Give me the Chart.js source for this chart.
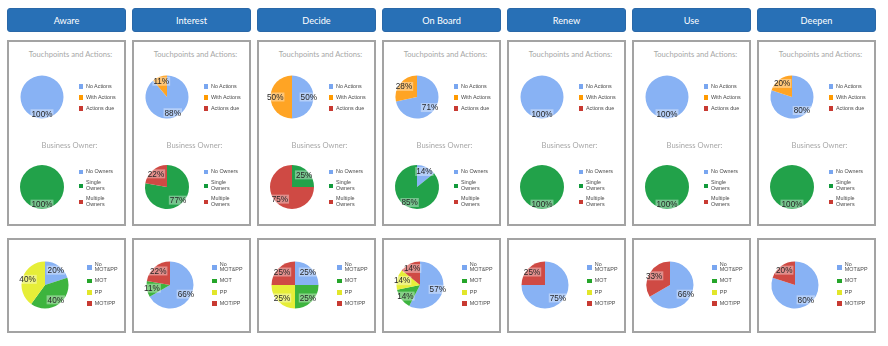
<!DOCTYPE html>
<html>
<head>
<meta charset="utf-8">
<script src="https://cdn.jsdelivr.net/npm/chart.js@4.4.1/dist/chart.umd.min.js"></script>
<style>
  html, body { margin: 0; padding: 0; background: #ffffff; }
  body { width: 888px; height: 346px; position: relative; overflow: hidden; font-family: "Liberation Sans", Arial, sans-serif; }
  .hdr { position: absolute; width: 119px; height: 24px; background: #2870b6; border-radius: 3px;
         color: #fff; font: 9.2px Lato, "Open Sans", sans-serif; text-align: center; line-height: 23px; box-sizing: border-box; border: 1px solid #2a68a8; }
  .panel { position: absolute; width: 119px; box-sizing: border-box; border: 2px solid #a3a3a3; background: #fff; }
  .ttl { position: absolute; width: 119px; text-align: center; font: 7.6px Lato, "Open Sans", sans-serif; color: #a8a8a8; }
  .lg { position: absolute; font: 5.4px "Liberation Sans", Arial, sans-serif; color: #4a4a4a; line-height: 5.6px; white-space: nowrap; }
  .sq { position: absolute; width: 4.5px; height: 4.5px; }
  canvas.pie { position: absolute; }
</style>
</head>
<body>
<script>
// Journey stages (one column each)
const stages = ['Aware', 'Interest', 'Decide', 'On Board', 'Renew', 'Use', 'Deepen'];

// Touchpoints and Actions (percent)
const actionLabels = ['No Actions', 'With Actions', 'Actions due'];
const noActions   = [100, 88, 50, 71, 100, 100, 80];
const withActions = [0, 11, 50, 28, 0, 0, 20];
const actionsDue  = [0, 0, 0, 0, 0, 0, 0];

// Business Owner (percent)
const ownerLabels = ['No Owners', 'Single\nOwners', 'Multiple\nOwners'];
const noOwners       = [0, 0, 0, 14, 0, 0, 0];
const singleOwners   = [100, 77, 25, 85, 100, 100, 100];
const multipleOwners = [0, 22, 75, 0, 0, 0, 0];

// MOT / PP coverage (percent)
const motLabels = ['No\nMOT&PP', 'MOT', 'PP', 'MOT/PP'];
const noMotPp = [20, 66, 25, 57, 75, 66, 80];
const motOnly = [40, 11, 25, 14, 0, 0, 0];
const ppOnly  = [40, 0, 25, 14, 0, 0, 0];
const motPp   = [0, 22, 25, 14, 25, 33, 20];

// Palettes: slice fill and legend swatch
const actionFill  = ['#88b2f4', '#ffa424', '#d04840'];
const actionSwatch = ['#79a6f0', '#ff9a00', '#c83a32'];
const ownerFill   = ['#88b2f4', '#22a24a', '#cf4a44'];
const ownerSwatch = ['#79a6f0', '#129a3c', '#c83a32'];
const motFill     = ['#88b2f4', '#3db43e', '#e6ee38', '#cf4a44'];
const motSwatch   = ['#79a6f0', '#25a52a', '#e2e62a', '#c83a32'];

// Percentage labels drawn on each slice
const sliceLabels = {
  id: 'sliceLabels',
  afterDatasetsDraw(chart) {
    const ctx = chart.ctx;
    const ds = chart.data.datasets[0];
    const meta = chart.getDatasetMeta(0);
    ctx.save();
    ctx.font = '8.2px "Liberation Sans", Arial, sans-serif';
    ctx.textAlign = 'center';
    ctx.textBaseline = 'middle';
    meta.data.forEach((arc, i) => {
      const v = ds.data[i];
      if (!v) return;
      const p = arc.getProps(['x', 'y', 'startAngle', 'endAngle', 'outerRadius'], true);
      const mid = (p.startAngle + p.endAngle) / 2;
      const rr = p.outerRadius * 0.78;
      const tx = p.x + Math.cos(mid) * rr;
      const ty = p.y + Math.sin(mid) * rr;
      const txt = v + '%';
      const w = ctx.measureText(txt).width;
      ctx.fillStyle = 'rgba(255,255,255,0.38)';
      ctx.fillRect(tx - w / 2 - 1, ty - 4.5, w + 2, 9);
      ctx.fillStyle = '#262626';
      ctx.fillText(txt, tx, ty + 0.5);
    });
    ctx.restore();
  }
};

function el(cls, x, y, parent) {
  const d = document.createElement('div');
  d.className = cls;
  d.style.left = x + 'px';
  d.style.top = y + 'px';
  (parent || document.body).appendChild(d);
  return d;
}

function pie(cx, cy, r, labels, values, colors) {
  const size = 70;
  const c = document.createElement('canvas');
  c.className = 'pie';
  c.width = size; c.height = size;
  c.style.width = size + 'px'; c.style.height = size + 'px';
  c.style.left = (cx - size / 2) + 'px';
  c.style.top = (cy - size / 2) + 'px';
  document.body.appendChild(c);
  new Chart(c, {
    type: 'pie',
    data: { labels: labels, datasets: [{ data: values, backgroundColor: colors, borderWidth: 0, radius: r }] },
    options: {
      responsive: false, animation: false, events: [],
      plugins: { legend: { display: false }, tooltip: { enabled: false } },
      layout: { padding: 0 }
    },
    plugins: [sliceLabels]
  });
}

// rows: [label, swatchY]
function legend(x, rows, colors) {
  rows.forEach((row, i) => {
    const sq = el('sq', x, row[1] - 2.25);
    sq.style.background = colors[i];
    const lines = row[0].split('\n');
    const t = el('lg', x + 7.5, row[1] - lines.length * 2.8);
    t.innerHTML = lines.join('<br>');
  });
}

stages.forEach((name, i) => {
  const x0 = 7 + 125 * i;
  const h = el('hdr', x0, 8); h.textContent = name;

  const top = el('panel', x0, 40); top.style.height = '186px';
  const t1 = el('ttl', x0 + 4, 49); t1.textContent = 'Touchpoints and Actions:';
  pie(x0 + 34.7, 96.5, 21.5, actionLabels, [noActions[i], withActions[i], actionsDue[i]], actionFill);
  legend(x0 + 71.5, [[actionLabels[0], 86.3], [actionLabels[1], 97.5], [actionLabels[2], 108.6]], actionSwatch);

  const t2 = el('ttl', x0 + 3, 140); t2.textContent = 'Business Owner:';
  pie(x0 + 34.7, 187, 22, ownerLabels, [noOwners[i], singleOwners[i], multipleOwners[i]], ownerFill);
  legend(x0 + 71.5, [[ownerLabels[0], 171.8], [ownerLabels[1], 186], [ownerLabels[2], 201.8]], ownerSwatch);

  const bot = el('panel', x0, 238); bot.style.height = '95px';
  pie(x0 + 38, 285, 23.5, motLabels, [noMotPp[i], motOnly[i], ppOnly[i], motPp[i]], motFill);
  legend(x0 + 80.3, [[motLabels[0], 267.3], [motLabels[1], 281.2], [motLabels[2], 292.4], [motLabels[3], 303.6]], motSwatch);
});
</script>
</body>
</html>
